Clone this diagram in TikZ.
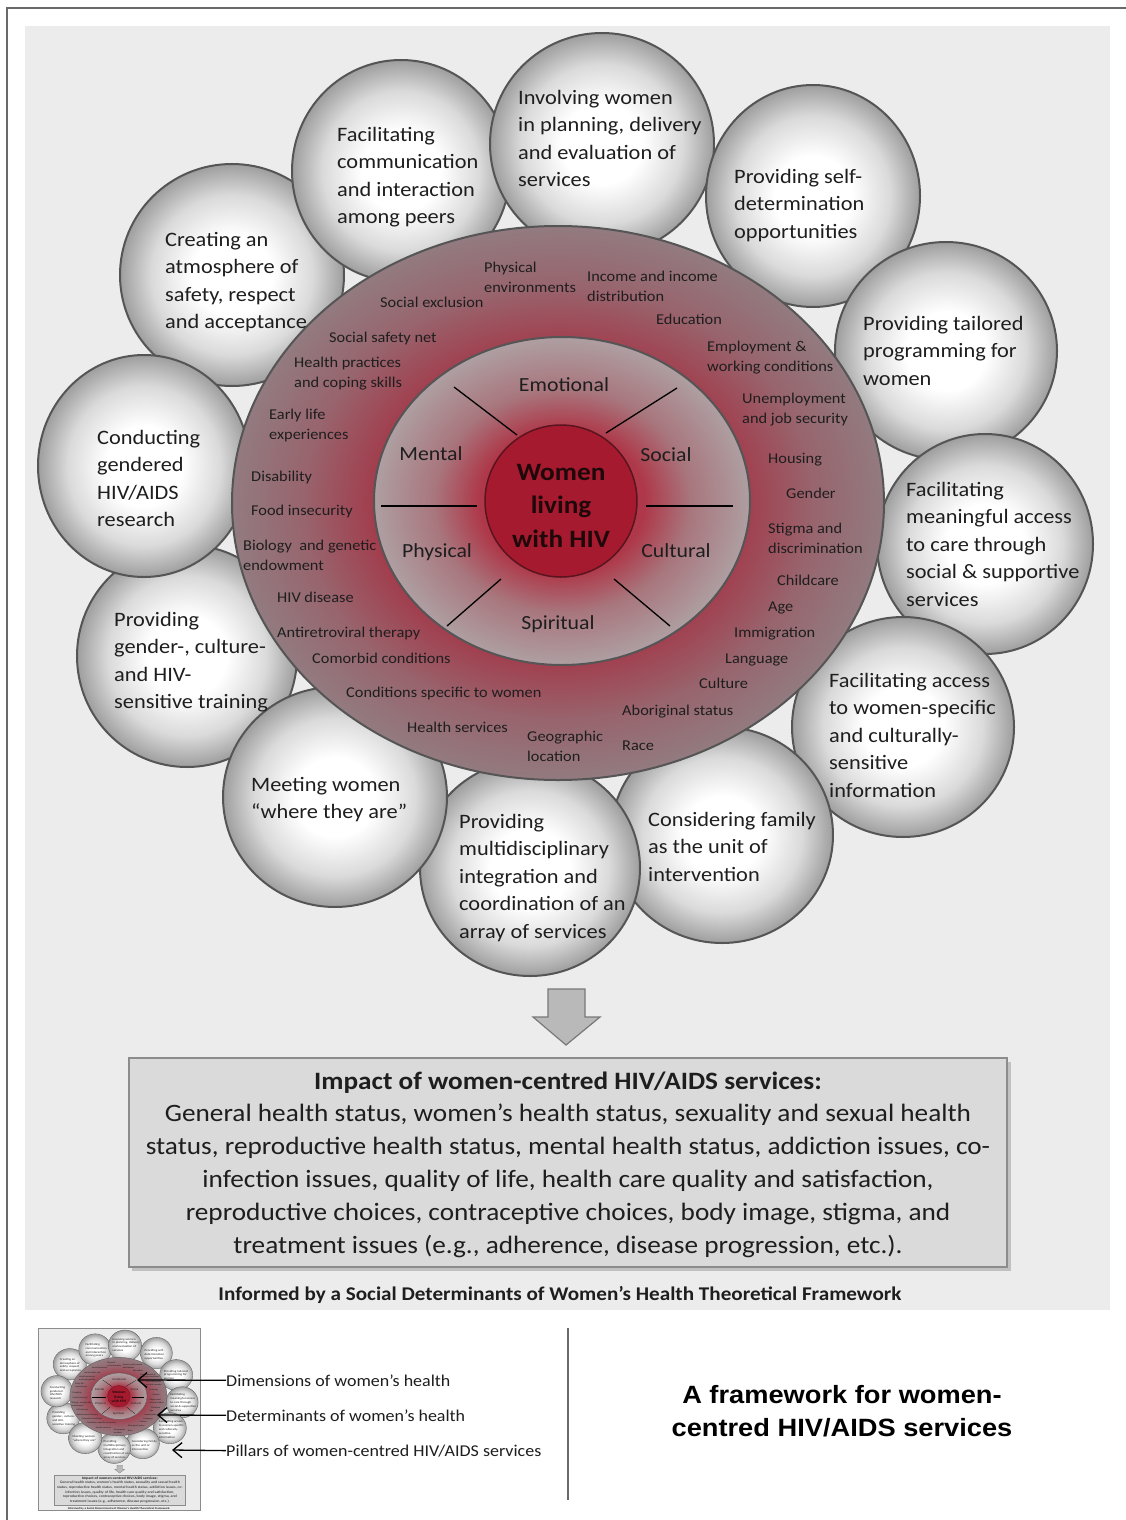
\documentclass[tikz,border=0pt]{standalone}
\usepackage{fontspec}
\setmainfont{Carlito}[FakeStretch=1.09]
\newfontfamily\arialfont{Liberation Sans}[FakeStretch=1.09]
\usetikzlibrary{arrows.meta}

\definecolor{panelbg}{RGB}{236,236,236}
\definecolor{framegray}{RGB}{105,105,105}
\definecolor{ballrim}{RGB}{158,158,158}
\definecolor{ballmid}{RGB}{218,218,218}
\definecolor{rimline}{RGB}{85,85,85}
\definecolor{ringred}{RGB}{162,60,76}
\definecolor{ringmid}{RGB}{152,100,109}
\definecolor{ringedge}{RGB}{146,123,128}
\definecolor{dimred}{RGB}{174,56,73}
\definecolor{dimmid}{RGB}{168,118,125}
\definecolor{dimedge}{RGB}{174,159,162}
\definecolor{corefill}{RGB}{165,26,46}
\definecolor{coreline}{RGB}{90,20,30}
\definecolor{coretxt}{RGB}{30,8,10}
\definecolor{txt}{RGB}{30,30,30}
\definecolor{boxfill}{RGB}{218,218,218}
\definecolor{boxline}{RGB}{140,140,140}
\definecolor{arrowfill}{RGB}{185,185,185}
\definecolor{arrowline}{RGB}{120,120,120}

\pgfdeclareradialshading{balloonshade}{\pgfpoint{0bp}{0bp}}{color(0bp)=(white); color(9bp)=(white); color(18bp)=(ballmid); color(25bp)=(ballrim); color(50bp)=(ballrim)}
\pgfdeclareradialshading{ringshade}{\pgfpoint{0bp}{0bp}}{color(0bp)=(ringred); color(14bp)=(ringred); color(19.5bp)=(ringmid); color(25bp)=(ringedge); color(50bp)=(ringedge)}
\pgfdeclareradialshading{dimshade}{\pgfpoint{0bp}{0bp}}{color(0bp)=(dimred); color(11bp)=(dimred); color(17bp)=(dimmid); color(25bp)=(dimedge); color(50bp)=(dimedge)}

\def\LW{1}
\tikzset{
  balloon/.style={shading=balloonshade, draw=rimline, line width={2pt*\LW}},
  balltext/.style={anchor=north west, inner sep=0pt, align=left, text=txt, font=\fontsize{20.5}{27.5}\selectfont},
  dettext/.style={anchor=north west, inner sep=0pt, align=left, text=txt, font=\fontsize{15}{20.5}\selectfont},
  dimtext/.style={anchor=base, inner sep=0pt, text=txt, font=\fontsize{20}{24}\selectfont},
  spoke/.style={draw=black, line width={1.3pt*\LW}},
  pointer/.style={-{Straight Barb[length=9pt,width=15pt]}, line width=1.3pt, draw=black},
}
% balloon text: name, x, baseline, text
\newcommand\bt[4]{\node[balltext] (#1) at (#2,#3-16.4) {\rule{0pt}{16.4pt}#4};}
% determinant text
\newcommand\dt[4]{\node[dettext] (#1) at (#2,#3-12) {\rule{0pt}{12pt}#4};}

\newcommand\mainpanel{%
  \fill[panelbg] (25,26) rectangle (1110,1310);
  % pillars (balloons)
  \shade[balloon] (232,275) ellipse [x radius=112, y radius=111];
  \shade[balloon] (401,171) ellipse [x radius=109, y radius=111];
  \shade[balloon] (602,144) ellipse [x radius=112, y radius=111];
  \shade[balloon] (813,196) ellipse [x radius=107, y radius=111];
  \shade[balloon] (946,351) ellipse [x radius=111, y radius=109];
  \shade[balloon] (985,544) ellipse [x radius=108, y radius=110];
  \shade[balloon] (903,727) ellipse [x radius=111, y radius=110];
  \shade[balloon] (722,835) ellipse [x radius=111, y radius=108];
  \shade[balloon] (530,868) ellipse [x radius=110, y radius=108];
  \shade[balloon] (187,656) ellipse [x radius=110, y radius=111];
  \shade[balloon] (335,797) ellipse [x radius=112, y radius=110];
  \shade[balloon] (144,466) ellipse [x radius=106, y radius=111];
  % determinants ring
  \shade[shading=ringshade, draw=rimline, line width={2pt*\LW}] (558,503) ellipse [x radius=326, y radius=277];
  % dimensions ring
  \shade[shading=dimshade, draw=rimline, line width={2pt*\LW}] (562,501) ellipse [x radius=188, y radius=164];
  % core
  \path[fill=corefill, draw=coreline, line width={1.5pt*\LW}] (561,501) circle [radius=76];
  % spokes
  \path[spoke] (454,387) -- (517,435);
  \path[spoke] (677,388) -- (606,433);
  \path[spoke] (381,506) -- (477,506);
  \path[spoke] (646,506) -- (733,506);
  \path[spoke] (501,579) -- (447,626);
  \path[spoke] (614,579) -- (670,626);
  % core text
  \node[anchor=north, inner sep=0pt, align=center, text=coretxt, font=\fontsize{25}{33.5}\selectfont\bfseries] (core) at (561,460) {\rule{0pt}{20pt}Women\\living\\with HIV};
  % dimensions
  \node[dimtext] (emo) at (564,391) {Emotional};
  \node[dimtext] (men) at (431,460) {Mental};
  \node[dimtext] (soc) at (666,461) {Social};
  \node[dimtext] (phy) at (437,557) {Physical};
  \node[dimtext] (cul) at (676,557) {Cultural};
  \node[dimtext] (spi) at (558,629) {Spiritual};
  % determinants
  \dt{d1}{484}{272}{Physical\\environments}
  \dt{d2}{587}{281}{Income and income\\distribution}
  \dt{d3}{380}{307}{Social exclusion}
  \dt{d4}{656}{324}{Education}
  \dt{d5}{329}{342}{Social safety net}
  \dt{d6}{707}{351}{Employment \&\\working conditions}
  \dt{d7}{294}{367}{Health practices\\and coping skills}
  \dt{d8}{742}{403}{Unemployment\\and job security}
  \dt{d9}{269}{419}{Early life\\experiences}
  \dt{d10}{768}{463}{Housing}
  \dt{d11}{251}{481}{Disability}
  \dt{d12}{786}{498}{Gender}
  \dt{d13}{251}{515}{Food insecurity}
  \dt{d14}{768}{533}{Stigma and\\discrimination}
  \dt{d15}{243}{550}{Biology\ \ and genetic\\endowment}
  \dt{d16}{777}{585}{Childcare}
  \dt{d17}{277}{602}{HIV disease}
  \dt{d18}{768}{611}{Age}
  \dt{d19}{277}{637}{Antiretroviral therapy}
  \dt{d20}{734}{637}{Immigration}
  \dt{d21}{312}{663}{Comorbid conditions}
  \dt{d22}{725}{663}{Language}
  \dt{d23}{699}{688}{Culture}
  \dt{d24}{346}{697}{Conditions specific to women}
  \dt{d25}{622}{715}{Aboriginal status}
  \dt{d26}{407}{732}{Health services}
  \dt{d27}{527}{741}{Geographic\\location}
  \dt{d28}{622}{750}{Race}
  % pillar texts
  \bt{p1}{518}{104}{Involving women\\in planning, delivery\\and evaluation of\\services}
  \bt{p2}{337}{141}{Facilitating\\communication\\and interaction\\among peers}
  \bt{p3}{734}{183}{Providing self-\\determination\\opportunities}
  \bt{p4}{165}{246}{Creating an\\atmosphere of\\safety, respect\\and acceptance}
  \bt{p5}{863}{330}{Providing tailored\\programming for\\women}
  \bt{p6}{97}{444}{Conducting\\gendered\\HIV/AIDS\\research}
  \bt{p7}{906}{496}{Facilitating\\meaningful access\\to care through\\social \& supportive\\services}
  \bt{p8}{114}{626}{Providing\\gender-, culture-\\and HIV-\\sensitive training}
  \bt{p9}{829}{687}{Facilitating access\\to women-specific\\and culturally-\\sensitive\\information}
  \bt{p10}{251}{791}{Meeting women\\“where they are”}
  \bt{p11}{459}{828}{Providing\\multidisciplinary\\integration and\\coordination of an\\array of services}
  \bt{p12}{648}{826}{Considering family\\as the unit of\\intervention}
  % arrow down
  \path[fill=arrowfill, draw=arrowline, line width={1.2pt*\LW}] (548,989) -- (585,989) -- (585,1017) -- (600,1017) -- (566,1045) -- (533,1017) -- (548,1017) -- cycle;
  % impact box
  \fill[black, opacity=0.18] (132,1062) rectangle (1011,1271);
  \path[fill=boxfill, draw=boxline, line width={1.2pt*\LW}] (129,1058) rectangle (1007,1267);
  \node[anchor=base, inner sep=0pt, text=txt, font=\fontsize{25}{30}\selectfont\bfseries] (imptitle) at (568,1089) {Impact of women-centred HIV/AIDS services:};
  \node[anchor=north, inner sep=0pt, align=center, text=txt, font=\fontsize{25}{33}\selectfont] (impbody) at (568,1121-19.5) {\rule{0pt}{19.5pt}General health status, women’s health status, sexuality and sexual health\\status, reproductive health status, mental health status, addiction issues, co-\\infection issues, quality of life, health care quality and satisfaction,\\reproductive choices, contraceptive choices, body image, stigma, and\\treatment issues (e.g., adherence, disease progression, etc.).};
  \node[anchor=base, inner sep=0pt, text=txt, font=\fontsize{19.4}{22}\selectfont\bfseries] (informed) at (560,1300) {Informed by a Social Determinants of Women’s Health Theoretical Framework};
}

\begin{document}
\begin{tikzpicture}[x=1pt, y=-1pt]
\useasboundingbox (0,0) rectangle (1125,1520);
\fill[white] (0,0) rectangle (1125,1520);
\draw[framegray, line width=2.5pt] (7,1530) -- (7,8) -- (1135,8);
\mainpanel
% thumbnail
\begin{scope}[shift={(39,1329)}, xscale=0.149, yscale=0.1415, shift={(-25,-26)}, transform shape, name prefix=th-]
  \def\LW{0.15}
  \fill[white] (25,26) rectangle (1110,1310);
  \mainpanel
\end{scope}
\draw[boxline, line width=0.8pt] (38,1328) rectangle (200,1510);
% legend
\node[anchor=base west, inner sep=0pt, text=txt, font=\fontsize{16.5}{20}\selectfont] (lab1) at (226,1386) {Dimensions of women’s health};
\node[anchor=base west, inner sep=0pt, text=txt, font=\fontsize{16.5}{20}\selectfont] (lab2) at (226,1421) {Determinants of women’s health};
\node[anchor=base west, inner sep=0pt, text=txt, font=\fontsize{16.5}{20}\selectfont] (lab3) at (226,1456) {Pillars of women-centred HIV/AIDS services};
\coordinate (tip1) at (137,1380);
\coordinate (tip2) at (157,1415);
\coordinate (tip3) at (172,1450);
\draw[pointer] (lab1.west) -- (tip1);
\draw[pointer] (lab2.west) -- (tip2);
\draw[pointer] (lab3.west) -- (tip3);
% separator
\coordinate (sepA) at (568,1328);
\coordinate (sepB) at (568,1500);
\draw[framegray, line width=1.5pt] (sepA) -- (sepB);
% title
\node[anchor=north, inner sep=0pt, align=center, text=black, font=\arialfont\fontsize{25}{33}\selectfont\bfseries] (title) at (842,1403-19) {\rule{0pt}{19pt}A framework for women-\\centred HIV/AIDS services};
\end{tikzpicture}
\end{document}
